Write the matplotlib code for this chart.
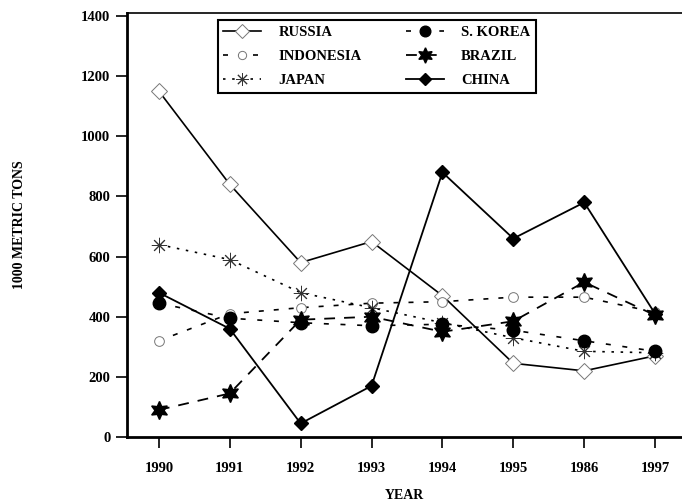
import matplotlib
matplotlib.use("Agg")
import matplotlib.pyplot as plt

plt.rcParams['font.family'] = ['Liberation Serif', 'DejaVu Serif']
plt.rcParams['font.weight'] = 'bold'

years = ['1990', '1991', '1992', '1993', '1994', '1995', '1986', '1997']
russia = [1150, 840, 580, 650, 470, 245, 220, 270]
indonesia = [320, 410, 430, 445, 450, 465, 465, 415]
japan = [640, 590, 480, 430, 380, 330, 285, 280]
s_korea = [445, 395, 380, 370, 375, 355, 320, 285]
brazil = [90, 145, 390, 400, 350, 385, 515, 405]
china = [480, 360, 45, 170, 880, 660, 780, 410]

x = list(range(len(years)))

fig = plt.figure(figsize=(6.82, 5.04), dpi=100)
ax = fig.add_axes([127/682, 67/504, 555/682, 424/504])

h_russia, = ax.plot(x, russia, '-', color='black', lw=1.2, marker='D',
                    mfc='white', mec='#777777', ms=8, mew=0.7)
h_indo, = ax.plot(x, indonesia, color='black', lw=1.2, ls=(0, (3, 6)), marker='o',
                  mfc='white', mec='#777777', ms=7, mew=0.7)
h_japan, = ax.plot(x, japan, color='black', lw=1.2, ls=(0, (1.5, 4)), marker=(8, 2, 0),
                   mec='#333333', ms=11, mew=0.7)
h_korea, = ax.plot(x, s_korea, color='black', lw=1.2, ls=(0, (3, 7)), marker='o',
                   mfc='black', mec='black', ms=9)
h_brazil, = ax.plot(x, brazil, color='black', lw=1.3, ls=(0, (6, 5)), marker=(6, 1, 0),
                    mfc='black', mec='black', ms=13)
h_china, = ax.plot(x, china, '-', color='black', lw=1.3, marker='D',
                   mfc='black', mec='black', ms=7)

ax.set_xlim(-0.45, 7.38)
ax.set_ylim(0, 1410)
ax.set_xticks(x)
ax.set_xticklabels(years)
ax.set_yticks(range(0, 1401, 200))
ax.tick_params(direction='out', length=8, width=1.2, labelsize=10.5, pad=10)
ax.tick_params(axis='y', pad=4)
for lab in ax.get_xticklabels() + ax.get_yticklabels():
    lab.set_fontweight('bold')

ax.spines['left'].set_linewidth(2)
ax.spines['bottom'].set_linewidth(2)
ax.spines['top'].set_linewidth(1.2)
ax.spines['right'].set_visible(False)

# x label placed by hand so it stays inside the picture
fig.text((127 + 555 / 2) / 682, 2 / 504, 'YEAR', ha='center', va='bottom',
         fontsize=10, fontweight='bold')
ax.set_ylabel('1000 METRIC TONS', fontsize=10, fontweight='bold', labelpad=40)

leg = ax.legend([h_russia, h_indo, h_japan, h_korea, h_brazil, h_china],
                ['RUSSIA', 'INDONESIA', 'JAPAN', 'S. KOREA', 'BRAZIL', 'CHINA'],
                ncol=2, loc='upper left', bbox_to_anchor=(0.150, 1.0),
                fancybox=False, edgecolor='black', framealpha=1,
                prop={'weight': 'bold', 'size': 10.5}, handlelength=2.6,
                markerscale=0.85, columnspacing=3.0, labelspacing=0.72,
                borderpad=0.4, handletextpad=1.2)
leg.get_frame().set_linewidth(1.5)

fig.savefig('out.png', dpi=100)
